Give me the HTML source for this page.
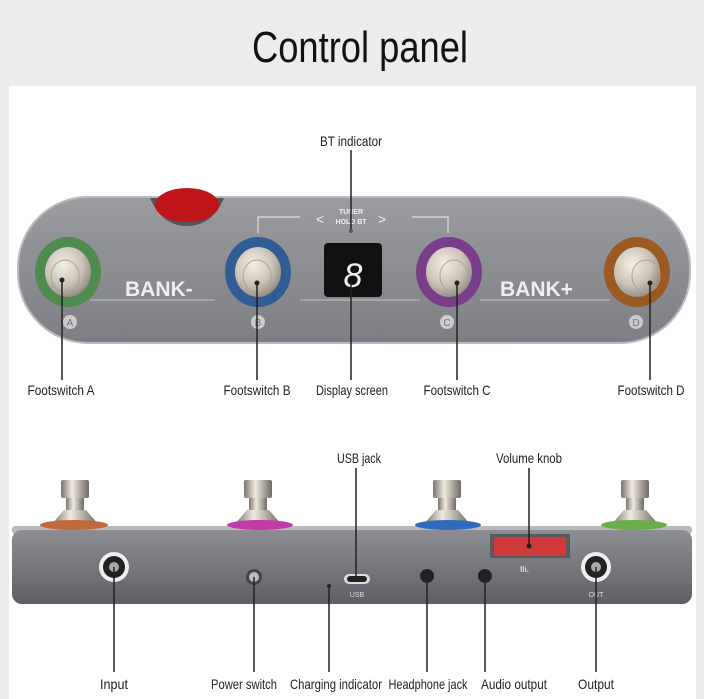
<!DOCTYPE html>
<html><head><meta charset="utf-8"><style>
html,body{margin:0;padding:0;background:#ececec}
svg{display:block}
text{font-family:"Liberation Sans Narrow","Liberation Sans",sans-serif}
</style></head><body>
<svg width="704" height="699" viewBox="0 0 704 699" xmlns="http://www.w3.org/2000/svg">
<defs>
<linearGradient id="body" x1="0" y1="0" x2="0" y2="1"><stop offset="0" stop-color="#9a9ca0"/><stop offset="1" stop-color="#7d7f84"/></linearGradient>
<linearGradient id="side" x1="0" y1="0" x2="0" y2="1"><stop offset="0" stop-color="#8c8e93"/><stop offset="0.5" stop-color="#76787d"/><stop offset="1" stop-color="#5d5f64"/></linearGradient>
<radialGradient id="metal" cx="0.4" cy="0.35" r="0.7"><stop offset="0" stop-color="#f4efe6"/><stop offset="0.6" stop-color="#c9c2b6"/><stop offset="1" stop-color="#8d877d"/></radialGradient>
<linearGradient id="stem" x1="0" y1="0" x2="1" y2="0"><stop offset="0" stop-color="#7a756d"/><stop offset="0.4" stop-color="#efe9df"/><stop offset="1" stop-color="#6f6a62"/></linearGradient>
</defs>
<rect width="704" height="699" fill="#ececec"/>
<rect x="9" y="86" width="687" height="613" fill="#fff"/>
<text x="360" y="62" font-size="44" text-anchor="middle" textLength="216" lengthAdjust="spacingAndGlyphs" fill="#111">Control panel</text>

<!-- top panel -->
<rect x="18" y="197" width="672" height="146" rx="70" fill="url(#body)" stroke="#b9bbbe" stroke-width="2"/>
<path d="M150 198 L224 198 Q212 226 187 226 Q162 226 150 198 Z" fill="#555"/>
<ellipse cx="187" cy="205" rx="32" ry="17" fill="#c0141b"/>
<path d="M258 233 V217 H300 M412 217 H448 V233" fill="none" stroke="#ddd" stroke-width="1.2"/>
<text x="351" y="214" font-size="7" text-anchor="middle" fill="#eee" font-weight="bold">TUNER</text>
<text x="351" y="224" font-size="7" text-anchor="middle" fill="#eee" font-weight="bold">HOLD BT</text>
<text x="316" y="224" font-size="14" fill="#eee">&lt;</text><text x="378" y="224" font-size="14" fill="#eee">&gt;</text>
<circle cx="351" cy="231" r="2" fill="#555"/>
<path d="M90 300 H215 M300 300 H420 M480 300 H610" stroke="#b5b7ba" stroke-width="1.2"/>
<text x="125" y="296" font-size="21" font-weight="bold" fill="#eee" font-family="Liberation Sans">BANK-</text>
<text x="500" y="296" font-size="21" font-weight="bold" fill="#eee" font-family="Liberation Sans">BANK+</text>
<rect x="324" y="243" width="58" height="54" rx="4" fill="#111"/>
<text x="353" y="287" font-size="34" text-anchor="middle" fill="#eee" font-style="italic">8</text>
<g font-size="10" text-anchor="middle">
<circle cx="70" cy="322" r="7" fill="#ccc"/><text x="70" y="326" fill="#777">A</text>
<circle cx="258" cy="322" r="7" fill="#ccc"/><text x="258" y="326" fill="#777">B</text>
<circle cx="447" cy="322" r="7" fill="#ccc"/><text x="447" y="326" fill="#777">C</text>
<circle cx="636" cy="322" r="7" fill="#ccc"/><text x="636" y="326" fill="#777">D</text>
</g>
<g>
<ellipse cx="68" cy="272" rx="33" ry="35" fill="#4f8a4e"/><ellipse cx="68" cy="272" rx="23" ry="25" fill="url(#metal)"/><ellipse cx="65" cy="276" rx="14" ry="16" fill="none" stroke="#aaa39a"/>
<ellipse cx="258" cy="272" rx="33" ry="35" fill="#2f5d94"/><ellipse cx="258" cy="272" rx="23" ry="25" fill="url(#metal)"/><ellipse cx="257" cy="276" rx="14" ry="16" fill="none" stroke="#aaa39a"/>
<ellipse cx="449" cy="272" rx="33" ry="35" fill="#7a3d8a"/><ellipse cx="449" cy="272" rx="23" ry="25" fill="url(#metal)"/><ellipse cx="454" cy="276" rx="14" ry="16" fill="none" stroke="#aaa39a"/>
<ellipse cx="637" cy="272" rx="33" ry="35" fill="#9a5a22"/><ellipse cx="637" cy="272" rx="23" ry="25" fill="url(#metal)"/><ellipse cx="646" cy="276" rx="14" ry="16" fill="none" stroke="#aaa39a"/>
</g>
<g stroke="#222" stroke-width="1.5">
<line x1="351" y1="150" x2="351" y2="229"/>
<line x1="62" y1="280" x2="62" y2="380"/>
<line x1="257" y1="283" x2="257" y2="380"/>
<line x1="351" y1="283" x2="351" y2="380"/>
<line x1="457" y1="283" x2="457" y2="380"/>
<line x1="650" y1="283" x2="650" y2="380"/>
</g>
<circle cx="62" cy="280" r="2.5" fill="#222"/><circle cx="257" cy="283" r="2.5" fill="#222"/><circle cx="457" cy="283" r="2.5" fill="#222"/><circle cx="650" cy="283" r="2.5" fill="#222"/>
<g font-size="14" fill="#222" text-anchor="middle">
<text x="351" y="146" textLength="62" lengthAdjust="spacingAndGlyphs">BT indicator</text>
<text x="61" y="395" textLength="67" lengthAdjust="spacingAndGlyphs">Footswitch A</text>
<text x="257" y="395" textLength="67" lengthAdjust="spacingAndGlyphs">Footswitch B</text>
<text x="352" y="395" textLength="72" lengthAdjust="spacingAndGlyphs">Display screen</text>
<text x="457" y="395" textLength="67" lengthAdjust="spacingAndGlyphs">Footswitch C</text>
<text x="651" y="395" textLength="67" lengthAdjust="spacingAndGlyphs">Footswitch D</text>
</g>

<!-- bottom device -->
<g>
<rect x="66" y="495" width="18" height="28" fill="url(#stem)"/><rect x="61" y="480" width="28" height="18" rx="2" fill="url(#stem)"/><path d="M52 524 L64 510 H86 L98 524Z" fill="url(#stem)"/>
<rect x="249" y="495" width="18" height="28" fill="url(#stem)"/><rect x="244" y="480" width="28" height="18" rx="2" fill="url(#stem)"/><path d="M235 524 L247 510 H269 L281 524Z" fill="url(#stem)"/>
<rect x="438" y="495" width="18" height="28" fill="url(#stem)"/><rect x="433" y="480" width="28" height="18" rx="2" fill="url(#stem)"/><path d="M424 524 L436 510 H458 L470 524Z" fill="url(#stem)"/>
<rect x="626" y="495" width="18" height="28" fill="url(#stem)"/><rect x="621" y="480" width="28" height="18" rx="2" fill="url(#stem)"/><path d="M612 524 L624 510 H646 L658 524Z" fill="url(#stem)"/>
</g>
<rect x="12" y="526" width="680" height="8" rx="3" fill="#b8b9bb"/>
<ellipse cx="74" cy="525" rx="34" ry="5" fill="#c06a3a"/>
<ellipse cx="260" cy="525" rx="33" ry="5" fill="#c03aa8"/>
<ellipse cx="448" cy="525" rx="33" ry="5" fill="#2f6cc0"/>
<ellipse cx="634" cy="525" rx="33" ry="5" fill="#6aae4a"/>
<rect x="12" y="530" width="680" height="74" rx="10" fill="url(#side)"/>
<rect x="490" y="534" width="80" height="24" fill="#5a5b5f"/>
<rect x="494" y="537" width="72" height="19" rx="3" fill="#d03a3a"/>
<text x="520" y="572" font-size="8" fill="#ddd" font-weight="bold">Ilı.</text>
<g>
<circle cx="114" cy="567" r="15" fill="#eee"/><circle cx="114" cy="567" r="11" fill="#222"/><circle cx="114" cy="567" r="5" fill="#aaa"/>
<circle cx="596" cy="567" r="15" fill="#eee"/><circle cx="596" cy="567" r="11" fill="#222"/><circle cx="596" cy="567" r="5" fill="#aaa"/>
<circle cx="254" cy="577" r="8" fill="#444"/><circle cx="254" cy="577" r="5" fill="#bbb"/>
<circle cx="329" cy="586" r="2" fill="#222"/>
<rect x="344" y="574" width="26" height="10" rx="5" fill="#ddd"/><rect x="347" y="576" width="20" height="6" rx="3" fill="#222"/>
<text x="357" y="597" font-size="7" fill="#ddd" text-anchor="middle">USB</text>
<circle cx="427" cy="576" r="7" fill="#222"/><circle cx="485" cy="576" r="7" fill="#222"/>
<text x="596" y="597" font-size="7" fill="#ddd" text-anchor="middle">OUT</text>
</g>
<g stroke="#222" stroke-width="1.5">
<line x1="356" y1="468" x2="356" y2="579"/>
<line x1="529" y1="468" x2="529" y2="546"/>
<line x1="114" y1="567" x2="114" y2="672"/>
<line x1="254" y1="577" x2="254" y2="672"/>
<line x1="329" y1="586" x2="329" y2="672"/>
<line x1="427" y1="576" x2="427" y2="672"/>
<line x1="485" y1="576" x2="485" y2="672"/>
<line x1="596" y1="567" x2="596" y2="672"/>
</g>
<circle cx="529" cy="546" r="2.5" fill="#222"/>
<g font-size="14" fill="#222" text-anchor="middle">
<text x="359" y="463" textLength="44" lengthAdjust="spacingAndGlyphs">USB jack</text>
<text x="529" y="463" textLength="66" lengthAdjust="spacingAndGlyphs">Volume knob</text>
<text x="114" y="689" textLength="28" lengthAdjust="spacingAndGlyphs">Input</text>
<text x="244" y="689" textLength="66" lengthAdjust="spacingAndGlyphs">Power switch</text>
<text x="336" y="689" textLength="92" lengthAdjust="spacingAndGlyphs">Charging indicator</text>
<text x="428" y="689" textLength="79" lengthAdjust="spacingAndGlyphs">Headphone jack</text>
<text x="514" y="689" textLength="66" lengthAdjust="spacingAndGlyphs">Audio output</text>
<text x="596" y="689" textLength="36" lengthAdjust="spacingAndGlyphs">Output</text>
</g>
</svg>
</body></html>
